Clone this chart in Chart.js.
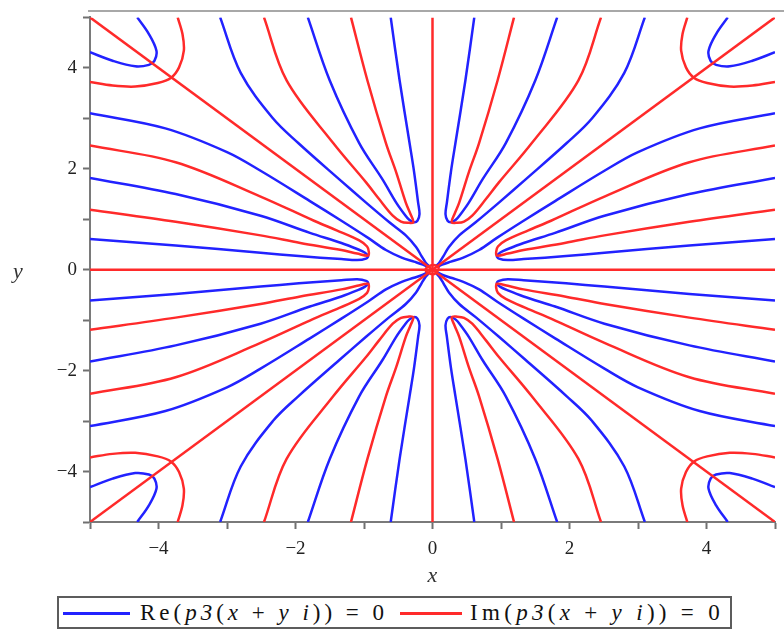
<!DOCTYPE html>
<html>
<head>
<meta charset="utf-8">
<script src="https://cdn.jsdelivr.net/npm/chart.js@4.4.0/dist/chart.umd.min.js"></script>
<style>
    body { margin: 0; background: #fff; }
    #wrap { position: relative; width: 784px; height: 630px; }
    #legend {
        position: absolute; left: 57px; top: 596px; width: 671px; height: 29px;
        border: 2px solid #5c5c5c; background: #fff;
        font-family: "Liberation Serif", "DejaVu Serif", "Noto Serif", "Times New Roman", Times, serif;
        font-size: 23px; color: #111;
    }
    .sw { position: absolute; top: 14px; height: 3px; }
    .lt { position: absolute; top: 0; line-height: 30px; white-space: nowrap; }
</style>
</head>
<body>
<div id="wrap">
    <canvas id="plot" width="784" height="630"></canvas>
    <div id="legend">
        <span class="sw" style="left:4px;width:67px;background:#2222ff"></span>
        <span class="lt" id="lt1" style="left:81px">Re(<i>p3</i>(<i>x</i> + <i>y</i> <i>i</i>)) = 0</span>
        <span class="sw" style="left:341px;width:62px;background:#ff2a2a"></span>
        <span class="lt" id="lt2" style="left:411px">Im(<i>p3</i>(<i>x</i> + <i>y</i> <i>i</i>)) = 0</span>
    </div>
</div>
<script>
// tick labels
const xTickValues = [-4, -2, 0, 2, 4];
const xTickLabels = ['\u22124', '\u22122', '0', '2', '4'];
const yTickValues = [-4, -2, 0, 2, 4];
const yTickLabels = ['\u22124', '\u22122', '0', '2', '4'];

// straight red lines (axes and diagonals)
const redAxisX = [[-5, 0], [5, 0]];
const redAxisY = [[0, -5], [0, 5]];
const redDiagUp = [[-5, -5], [5, 5]];
const redDiagDown = [[-5, 5], [5, -5]];
const redCenter = [[0.1, 0.03], [0.04, 0.09], [-0.05, 0.07], [-0.1, 0.0], [-0.05, -0.07], [0.04, -0.08], [0.1, 0.03]];

// quadrant 1 (x>0, y>0)
const q1BlueUa = [[0.61,5.0],[0.48,3.75],[0.335,2.51],[0.27,1.95],[0.21,1.33],[0.19,1.10],[0.22,0.97],[0.27,0.94],[0.34,0.99],[0.41,1.10],[0.53,1.33],[0.73,1.79],[1.07,2.51],[1.50,3.75],[1.82,5.0]];
const q1RedUa = [[1.19,5.0],[0.95,3.75],[0.68,2.51],[0.53,1.93],[0.39,1.33],[0.32,1.10],[0.28,0.94],[0.36,0.93],[0.46,0.955],[0.58,1.07],[0.78,1.40],[0.97,1.73],[1.45,2.51],[2.13,3.75],[2.46,5.0]];
const q1Blue3a = [[3.10,5.0],[2.8,3.9],[2.33,3.0],[1.96,2.51],[1.36,1.79],[0.97,1.33],[0.63,0.94],[0.39,0.68],[0.24,0.45],[0.16,0.27],[0.1,0.14],[0.06,0.08]];
const q1BlueUb = [[5.0,0.61],[3.75,0.48],[2.51,0.335],[1.95,0.27],[1.33,0.21],[1.10,0.19],[0.97,0.22],[0.94,0.27],[0.99,0.34],[1.10,0.41],[1.33,0.53],[1.79,0.73],[2.51,1.07],[3.75,1.50],[5.0,1.82]];
const q1RedUb = [[5.0,1.19],[3.75,0.95],[2.51,0.68],[1.93,0.53],[1.33,0.39],[1.10,0.32],[0.94,0.28],[0.93,0.36],[0.955,0.46],[1.07,0.58],[1.40,0.78],[1.73,0.97],[2.51,1.45],[3.75,2.13],[5.0,2.46]];
const q1Blue3b = [[5.0,3.10],[3.9,2.8],[3.0,2.33],[2.51,1.96],[1.79,1.36],[1.33,0.97],[0.94,0.63],[0.68,0.39],[0.45,0.24],[0.27,0.16],[0.14,0.1],[0.08,0.06]];
const q1RedCorner = [[3.72,5.0],[3.65,4.67],[3.63,4.34],[3.70,4.01],[3.82,3.80],[4.01,3.70],[4.34,3.63],[4.67,3.65],[5.0,3.72]];
const q1BlueCorner = [[4.31,5.0],[4.14,4.67],[4.03,4.34],[4.06,4.14],[4.14,4.06],[4.34,4.03],[4.67,4.14],[5.0,4.31]];

// quadrant 2 (x<0, y>0)
const q2BlueUa = [[-0.61,5.0],[-0.48,3.75],[-0.335,2.51],[-0.27,1.95],[-0.21,1.33],[-0.19,1.10],[-0.22,0.97],[-0.27,0.94],[-0.34,0.99],[-0.41,1.10],[-0.53,1.33],[-0.73,1.79],[-1.07,2.51],[-1.50,3.75],[-1.82,5.0]];
const q2RedUa = [[-1.19,5.0],[-0.95,3.75],[-0.68,2.51],[-0.53,1.93],[-0.39,1.33],[-0.32,1.10],[-0.28,0.94],[-0.36,0.93],[-0.46,0.955],[-0.58,1.07],[-0.78,1.40],[-0.97,1.73],[-1.45,2.51],[-2.13,3.75],[-2.46,5.0]];
const q2Blue3a = [[-3.10,5.0],[-2.8,3.9],[-2.33,3.0],[-1.96,2.51],[-1.36,1.79],[-0.97,1.33],[-0.63,0.94],[-0.39,0.68],[-0.24,0.45],[-0.16,0.27],[-0.1,0.14],[-0.06,0.08]];
const q2BlueUb = [[-5.0,0.61],[-3.75,0.48],[-2.51,0.335],[-1.95,0.27],[-1.33,0.21],[-1.10,0.19],[-0.97,0.22],[-0.94,0.27],[-0.99,0.34],[-1.10,0.41],[-1.33,0.53],[-1.79,0.73],[-2.51,1.07],[-3.75,1.50],[-5.0,1.82]];
const q2RedUb = [[-5.0,1.19],[-3.75,0.95],[-2.51,0.68],[-1.93,0.53],[-1.33,0.39],[-1.10,0.32],[-0.94,0.28],[-0.93,0.36],[-0.955,0.46],[-1.07,0.58],[-1.40,0.78],[-1.73,0.97],[-2.51,1.45],[-3.75,2.13],[-5.0,2.46]];
const q2Blue3b = [[-5.0,3.10],[-3.9,2.8],[-3.0,2.33],[-2.51,1.96],[-1.79,1.36],[-1.33,0.97],[-0.94,0.63],[-0.68,0.39],[-0.45,0.24],[-0.27,0.16],[-0.14,0.1],[-0.08,0.06]];
const q2RedCorner = [[-3.72,5.0],[-3.65,4.67],[-3.63,4.34],[-3.70,4.01],[-3.82,3.80],[-4.01,3.70],[-4.34,3.63],[-4.67,3.65],[-5.0,3.72]];
const q2BlueCorner = [[-4.31,5.0],[-4.14,4.67],[-4.03,4.34],[-4.06,4.14],[-4.14,4.06],[-4.34,4.03],[-4.67,4.14],[-5.0,4.31]];

// quadrant 3 (x<0, y<0)
const q3BlueUa = [[-0.61,-5.0],[-0.48,-3.75],[-0.335,-2.51],[-0.27,-1.95],[-0.21,-1.33],[-0.19,-1.10],[-0.22,-0.97],[-0.27,-0.94],[-0.34,-0.99],[-0.41,-1.10],[-0.53,-1.33],[-0.73,-1.79],[-1.07,-2.51],[-1.50,-3.75],[-1.82,-5.0]];
const q3RedUa = [[-1.19,-5.0],[-0.95,-3.75],[-0.68,-2.51],[-0.53,-1.93],[-0.39,-1.33],[-0.32,-1.10],[-0.28,-0.94],[-0.36,-0.93],[-0.46,-0.955],[-0.58,-1.07],[-0.78,-1.40],[-0.97,-1.73],[-1.45,-2.51],[-2.13,-3.75],[-2.46,-5.0]];
const q3Blue3a = [[-3.10,-5.0],[-2.8,-3.9],[-2.33,-3.0],[-1.96,-2.51],[-1.36,-1.79],[-0.97,-1.33],[-0.63,-0.94],[-0.39,-0.68],[-0.24,-0.45],[-0.16,-0.27],[-0.1,-0.14],[-0.06,-0.08]];
const q3BlueUb = [[-5.0,-0.61],[-3.75,-0.48],[-2.51,-0.335],[-1.95,-0.27],[-1.33,-0.21],[-1.10,-0.19],[-0.97,-0.22],[-0.94,-0.27],[-0.99,-0.34],[-1.10,-0.41],[-1.33,-0.53],[-1.79,-0.73],[-2.51,-1.07],[-3.75,-1.50],[-5.0,-1.82]];
const q3RedUb = [[-5.0,-1.19],[-3.75,-0.95],[-2.51,-0.68],[-1.93,-0.53],[-1.33,-0.39],[-1.10,-0.32],[-0.94,-0.28],[-0.93,-0.36],[-0.955,-0.46],[-1.07,-0.58],[-1.40,-0.78],[-1.73,-0.97],[-2.51,-1.45],[-3.75,-2.13],[-5.0,-2.46]];
const q3Blue3b = [[-5.0,-3.10],[-3.9,-2.8],[-3.0,-2.33],[-2.51,-1.96],[-1.79,-1.36],[-1.33,-0.97],[-0.94,-0.63],[-0.68,-0.39],[-0.45,-0.24],[-0.27,-0.16],[-0.14,-0.1],[-0.08,-0.06]];
const q3RedCorner = [[-3.72,-5.0],[-3.65,-4.67],[-3.63,-4.34],[-3.70,-4.01],[-3.82,-3.80],[-4.01,-3.70],[-4.34,-3.63],[-4.67,-3.65],[-5.0,-3.72]];
const q3BlueCorner = [[-4.31,-5.0],[-4.14,-4.67],[-4.03,-4.34],[-4.06,-4.14],[-4.14,-4.06],[-4.34,-4.03],[-4.67,-4.14],[-5.0,-4.31]];

// quadrant 4 (x>0, y<0)
const q4BlueUa = [[0.61,-5.0],[0.48,-3.75],[0.335,-2.51],[0.27,-1.95],[0.21,-1.33],[0.19,-1.10],[0.22,-0.97],[0.27,-0.94],[0.34,-0.99],[0.41,-1.10],[0.53,-1.33],[0.73,-1.79],[1.07,-2.51],[1.50,-3.75],[1.82,-5.0]];
const q4RedUa = [[1.19,-5.0],[0.95,-3.75],[0.68,-2.51],[0.53,-1.93],[0.39,-1.33],[0.32,-1.10],[0.28,-0.94],[0.36,-0.93],[0.46,-0.955],[0.58,-1.07],[0.78,-1.40],[0.97,-1.73],[1.45,-2.51],[2.13,-3.75],[2.46,-5.0]];
const q4Blue3a = [[3.10,-5.0],[2.8,-3.9],[2.33,-3.0],[1.96,-2.51],[1.36,-1.79],[0.97,-1.33],[0.63,-0.94],[0.39,-0.68],[0.24,-0.45],[0.16,-0.27],[0.1,-0.14],[0.06,-0.08]];
const q4BlueUb = [[5.0,-0.61],[3.75,-0.48],[2.51,-0.335],[1.95,-0.27],[1.33,-0.21],[1.10,-0.19],[0.97,-0.22],[0.94,-0.27],[0.99,-0.34],[1.10,-0.41],[1.33,-0.53],[1.79,-0.73],[2.51,-1.07],[3.75,-1.50],[5.0,-1.82]];
const q4RedUb = [[5.0,-1.19],[3.75,-0.95],[2.51,-0.68],[1.93,-0.53],[1.33,-0.39],[1.10,-0.32],[0.94,-0.28],[0.93,-0.36],[0.955,-0.46],[1.07,-0.58],[1.40,-0.78],[1.73,-0.97],[2.51,-1.45],[3.75,-2.13],[5.0,-2.46]];
const q4Blue3b = [[5.0,-3.10],[3.9,-2.8],[3.0,-2.33],[2.51,-1.96],[1.79,-1.36],[1.33,-0.97],[0.94,-0.63],[0.68,-0.39],[0.45,-0.24],[0.27,-0.16],[0.14,-0.1],[0.08,-0.06]];
const q4RedCorner = [[3.72,-5.0],[3.65,-4.67],[3.63,-4.34],[3.70,-4.01],[3.82,-3.80],[4.01,-3.70],[4.34,-3.63],[4.67,-3.65],[5.0,-3.72]];
const q4BlueCorner = [[4.31,-5.0],[4.14,-4.67],[4.03,-4.34],[4.06,-4.14],[4.14,-4.06],[4.34,-4.03],[4.67,-4.14],[5.0,-4.31]];

const BLUE = '#2222ff';
const RED = '#ff2a2a';

const redStraight = [redAxisX, redAxisY, redDiagUp, redDiagDown];
const redCurves = [
    redCenter,
    q1RedUa, q1RedUb, q1RedCorner,
    q2RedUa, q2RedUb, q2RedCorner,
    q3RedUa, q3RedUb, q3RedCorner,
    q4RedUa, q4RedUb, q4RedCorner
];
const blueCurves = [
    q1BlueUa, q1Blue3a, q1BlueUb, q1Blue3b, q1BlueCorner,
    q2BlueUa, q2Blue3a, q2BlueUb, q2Blue3b, q2BlueCorner,
    q3BlueUa, q3Blue3a, q3BlueUb, q3Blue3b, q3BlueCorner,
    q4BlueUa, q4Blue3a, q4BlueUb, q4Blue3b, q4BlueCorner
];

function makeSet(points, color, tension) {
    return {
        data: points.map(p => ({ x: p[0], y: p[1] })),
        borderColor: color,
        borderWidth: 2.5,
        pointRadius: 0,
        fill: false,
        tension: tension
    };
}

// first dataset is drawn on top, so red goes first
const datasets = [];
redStraight.forEach(pts => datasets.push(makeSet(pts, RED, 0)));
redCurves.forEach(pts => datasets.push(makeSet(pts, RED, 0.35)));
blueCurves.forEach(pts => datasets.push(makeSet(pts, BLUE, 0.35)));

function tickText(values, labels) {
    return function(v) {
        const i = values.indexOf(v);
        return i >= 0 ? labels[i] : '';
    };
}

const SERIF = '"Liberation Serif", "DejaVu Serif", "Noto Serif", "Times New Roman", Times, serif';
const tickFont = { family: SERIF, size: 19 };

const decorations = {
    id: 'decorations',
    afterDraw(chart) {
        const ctx = chart.ctx;
        const area = chart.chartArea;
        ctx.save();
        ctx.strokeStyle = '#a8a8a8';
        ctx.lineWidth = 2;
        ctx.beginPath();
        ctx.moveTo(area.left - 2, 11);
        ctx.lineTo(784, 11);
        ctx.stroke();
        ctx.fillStyle = '#333';
        ctx.font = 'italic 22px ' + SERIF;
        ctx.textAlign = 'center';
        ctx.textBaseline = 'middle';
        ctx.fillText('x', (area.left + area.right) / 2, 576);
        ctx.fillText('y', 18, 272);
        ctx.restore();
    }
};

new Chart(document.getElementById('plot'), {
    type: 'line',
    data: { datasets: datasets },
    options: {
        responsive: false,
        animation: false,
        devicePixelRatio: 1,
        layout: { padding: { left: 0, right: 6, top: 13, bottom: 0 } },
        plugins: {
            legend: { display: false },
            tooltip: { enabled: false }
        },
        scales: {
            x: {
                type: 'linear',
                min: -5,
                max: 5,
                afterFit: function(scale) { scale.height = 108; },
                ticks: {
                    stepSize: 1,
                    autoSkip: false,
                    maxRotation: 0,
                    padding: 9,
                    color: '#222',
                    font: tickFont,
                    callback: tickText(xTickValues, xTickLabels)
                },
                grid: { drawOnChartArea: false, tickLength: 7, tickColor: '#707070', tickWidth: 2 },
                border: { color: '#7a7a7a', width: 2 }
            },
            y: {
                type: 'linear',
                min: -5,
                max: 5,
                afterFit: function(scale) { scale.width = 90; },
                ticks: {
                    stepSize: 1,
                    autoSkip: false,
                    padding: 6,
                    color: '#222',
                    font: tickFont,
                    callback: tickText(yTickValues, yTickLabels)
                },
                grid: { drawOnChartArea: false, tickLength: 7, tickColor: '#707070', tickWidth: 2 },
                border: { color: '#7a7a7a', width: 2 }
            }
        }
    },
    plugins: [decorations]
});

// stretch the legend texts to the widths they have in the picture
function fitText(el, target) {
    const w = el.getBoundingClientRect().width;
    const n = el.textContent.length;
    el.style.letterSpacing = ((target - w) / n) + 'px';
}
fitText(document.getElementById('lt1'), 248);
fitText(document.getElementById('lt2'), 254);
</script>
</body>
</html>
